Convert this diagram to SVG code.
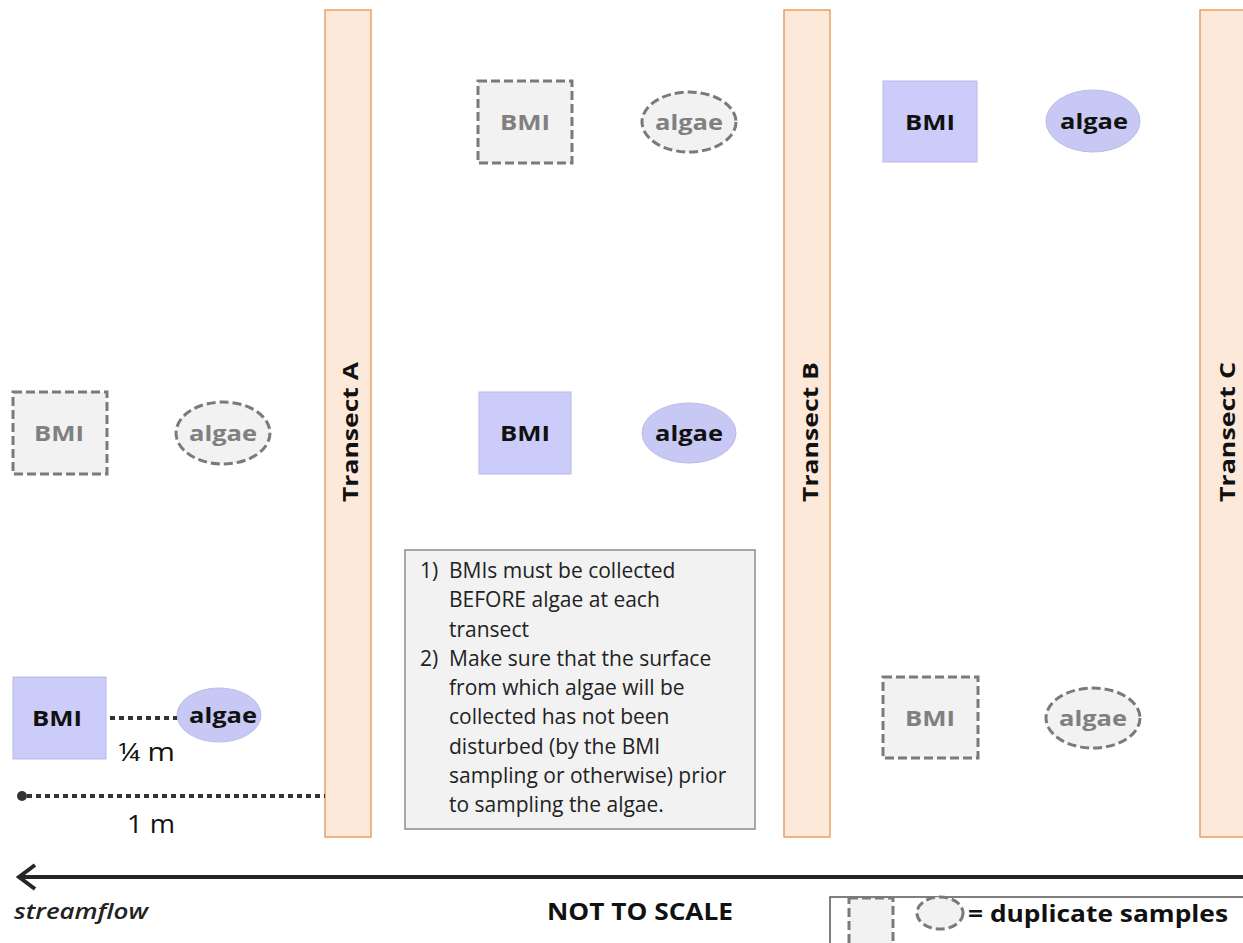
<svg xmlns="http://www.w3.org/2000/svg" width="1243" height="943" viewBox="0 0 1243 943">
  <defs>
    <style>
      .transect { fill: #fde9d9; stroke: #e8a060; stroke-width: 1.5; }
      .tlabel { font-family: "Open Sans", "Liberation Sans", sans-serif; font-weight: 700; font-size: 22px; fill: #111; text-anchor: middle; }
      .bmi { fill: #ccccfa; stroke: #b8b8e6; stroke-width: 1; }
      .alg { fill: #c8c8f4; stroke: #bcbce8; stroke-width: 1; }
      .dup { fill: #f2f2f2; stroke: #7a7a7a; stroke-width: 3; stroke-dasharray: 9 4; }
      .lbl { font-family: "Open Sans", "Liberation Sans", sans-serif; font-weight: 700; font-size: 22px; text-anchor: middle; }
      .lbl-solid { fill: #111; }
      .lbl-dup { fill: #808080; }
      .note { font-family: "Open Sans", "Liberation Sans", sans-serif; font-size: 21px; fill: #222; }
      .dim { font-family: "Open Sans", "Liberation Sans", sans-serif; font-size: 25px; fill: #111; }
      .dots { stroke: #333; stroke-width: 4; stroke-dasharray: 5 4; fill: none; }
    </style>
  </defs>

  <!-- transects -->
  <g id="transect-a">
    <rect class="transect" x="325" y="10" width="46" height="827"/>
    <text class="tlabel" transform="translate(358,432) rotate(-90)" textLength="140" lengthAdjust="spacingAndGlyphs">Transect A</text>
  </g>
  <g id="transect-b">
    <rect class="transect" x="784" y="10" width="46" height="827"/>
    <text class="tlabel" transform="translate(818,432) rotate(-90)" textLength="140" lengthAdjust="spacingAndGlyphs">Transect B</text>
  </g>
  <g id="transect-c">
    <rect class="transect" x="1200" y="10" width="60" height="827"/>
    <text class="tlabel" transform="translate(1235,432) rotate(-90)" textLength="140" lengthAdjust="spacingAndGlyphs">Transect C</text>
  </g>

  <!-- upstream of transect A -->
  <g id="bmi-a-dup">
    <rect class="dup" x="13" y="392" width="94" height="82"/>
    <text class="lbl lbl-dup" x="59" y="441" textLength="50" lengthAdjust="spacingAndGlyphs">BMI</text>
  </g>
  <g id="algae-a-dup">
    <ellipse class="dup" cx="223" cy="433" rx="47" ry="31"/>
    <text class="lbl lbl-dup" x="223" y="441" textLength="68" lengthAdjust="spacingAndGlyphs">algae</text>
  </g>
  <g id="bmi-a">
    <rect class="bmi" x="13" y="677" width="93" height="82"/>
    <text class="lbl lbl-solid" x="57" y="726" textLength="50" lengthAdjust="spacingAndGlyphs">BMI</text>
  </g>
  <g id="algae-a">
    <ellipse class="alg" cx="219" cy="715" rx="42" ry="27"/>
    <text class="lbl lbl-solid" x="223" y="723" textLength="68" lengthAdjust="spacingAndGlyphs">algae</text>
  </g>

  <!-- between transects A and B -->
  <g id="bmi-b-dup">
    <rect class="dup" x="478" y="81" width="94" height="82"/>
    <text class="lbl lbl-dup" x="525" y="130" textLength="50" lengthAdjust="spacingAndGlyphs">BMI</text>
  </g>
  <g id="algae-b-dup">
    <ellipse class="dup" cx="689" cy="122" rx="47" ry="30"/>
    <text class="lbl lbl-dup" x="689" y="130" textLength="68" lengthAdjust="spacingAndGlyphs">algae</text>
  </g>
  <g id="bmi-b">
    <rect class="bmi" x="479" y="392" width="92" height="82"/>
    <text class="lbl lbl-solid" x="525" y="441" textLength="50" lengthAdjust="spacingAndGlyphs">BMI</text>
  </g>
  <g id="algae-b">
    <ellipse class="alg" cx="689" cy="433" rx="47" ry="30"/>
    <text class="lbl lbl-solid" x="689" y="441" textLength="68" lengthAdjust="spacingAndGlyphs">algae</text>
  </g>

  <!-- between transects B and C -->
  <g id="bmi-c">
    <rect class="bmi" x="883" y="81" width="94" height="81"/>
    <text class="lbl lbl-solid" x="930" y="130" textLength="50" lengthAdjust="spacingAndGlyphs">BMI</text>
  </g>
  <g id="algae-c">
    <ellipse class="alg" cx="1093" cy="121" rx="47" ry="31"/>
    <text class="lbl lbl-solid" x="1094" y="129" textLength="68" lengthAdjust="spacingAndGlyphs">algae</text>
  </g>
  <g id="bmi-c-dup">
    <rect class="dup" x="883" y="677" width="95" height="81"/>
    <text class="lbl lbl-dup" x="930" y="726" textLength="50" lengthAdjust="spacingAndGlyphs">BMI</text>
  </g>
  <g id="algae-c-dup">
    <ellipse class="dup" cx="1093" cy="718" rx="47" ry="30"/>
    <text class="lbl lbl-dup" x="1093" y="726" textLength="68" lengthAdjust="spacingAndGlyphs">algae</text>
  </g>

  <!-- notes -->
  <g id="notes">
    <rect x="405" y="550" width="350" height="279" fill="#f2f2f2" stroke="#8c8c8c" stroke-width="1.5"/>
    <text class="note">
      <tspan x="420" y="578">1)</tspan><tspan x="449" y="578">BMIs must be collected</tspan>
      <tspan x="449" y="607">BEFORE algae at each</tspan>
      <tspan x="449" y="637">transect</tspan>
      <tspan x="420" y="666">2)</tspan><tspan x="449" y="666">Make sure that the surface</tspan>
      <tspan x="449" y="695">from which algae will be</tspan>
      <tspan x="449" y="724">collected has not been</tspan>
      <tspan x="449" y="754">disturbed (by the BMI</tspan>
      <tspan x="449" y="783">sampling or otherwise) prior</tspan>
      <tspan x="449" y="812">to sampling the algae.</tspan>
    </text>
  </g>

  <!-- distance markers and flow arrow -->
  <g id="connectors">
    <line class="dots" x1="110" y1="718" x2="177" y2="718"/>
    <circle cx="22" cy="796" r="5" fill="#333"/>
    <line class="dots" x1="27" y1="796" x2="325" y2="796"/>
    <line x1="1243" y1="877" x2="19" y2="877" stroke="#262626" stroke-width="4"/>
    <path d="M35,865 L19,877 L35,889" fill="none" stroke="#262626" stroke-width="4"/>
  </g>
  <g id="dimension-labels">
    <text class="dim" x="118" y="761" textLength="57" lengthAdjust="spacingAndGlyphs">¼ m</text>
    <text class="dim" x="127" y="833" textLength="48" lengthAdjust="spacingAndGlyphs">1 m</text>
  </g>

  <!-- footer -->
  <g id="footer">
    <text x="14" y="919" font-family="'Open Sans', 'Liberation Sans', sans-serif" font-style="italic" font-weight="600" font-size="22" fill="#222" textLength="134" lengthAdjust="spacingAndGlyphs">streamflow</text>
    <text x="640" y="920" font-family="'Open Sans', 'Liberation Sans', sans-serif" font-weight="700" font-size="23" fill="#111" text-anchor="middle" textLength="186" lengthAdjust="spacingAndGlyphs">NOT TO SCALE</text>
  </g>
  <g id="legend">
    <rect x="830" y="897" width="420" height="60" fill="#fff" stroke="#555" stroke-width="1.5"/>
    <rect class="dup" x="849" y="898" width="44" height="50" stroke-width="2.5"/>
    <ellipse class="dup" cx="940" cy="913" rx="23" ry="16" stroke-width="2.5"/>
    <text x="968" y="922" font-family="'Open Sans', 'Liberation Sans', sans-serif" font-weight="700" font-size="23" fill="#111" textLength="260" lengthAdjust="spacingAndGlyphs">= duplicate samples</text>
  </g>
</svg>
